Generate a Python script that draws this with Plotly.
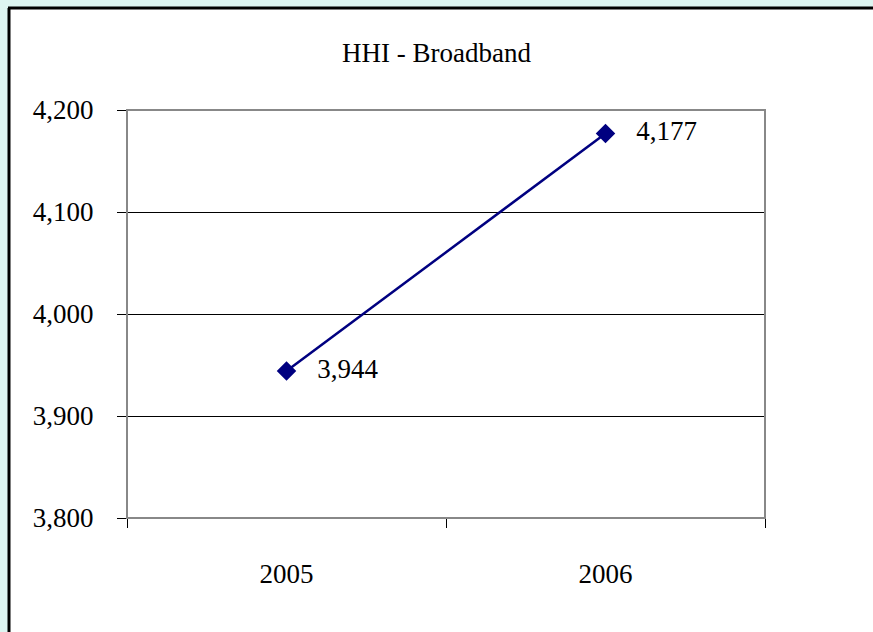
import plotly.graph_objects as go

years = ["2005", "2006"]
hhi = [3944, 4177]
data_labels = ["3,944", "4,177"]
y_ticks = [3800, 3900, 4000, 4100, 4200]
y_tick_labels = ["3,800", "3,900", "4,000", "4,100", "4,200"]

W, H = 873, 632
L, R, T, B = 127, 108, 110, 114
pw, ph = W - L - R, H - T - B


def px_x(x):
    return (x - L) / pw


def px_y(y):
    return 1 - (y - T) / ph


navy = "#000080"
cyan = "#DDF5F1"
serif = "Liberation Serif, Times New Roman, serif"
fs = 27

fig = go.Figure()
fig.add_trace(go.Scatter(
    x=years, y=hhi,
    mode="lines+markers+text",
    line=dict(color=navy, width=2.5),
    marker=dict(symbol="diamond", size=15, color=navy),
    text=["   " + t for t in data_labels],
    textposition="middle right",
    textfont=dict(family=serif, size=fs, color="black"),
    cliponaxis=False,
    showlegend=False,
))

fig.update_layout(
    width=W, height=H,
    margin=dict(l=L, r=R, t=T, b=B),
    paper_bgcolor="white",
    plot_bgcolor="white",
    title=dict(text="HHI - Broadband", x=0.5, xanchor="center",
               y=1 - 53 / H, yanchor="middle",
               font=dict(family=serif, size=fs, color="black")),
    font=dict(family=serif, size=fs, color="black"),
    shapes=[
        # light backdrop strips along the left and top edges
        dict(type="rect", xref="paper", yref="paper", layer="below",
             x0=px_x(0), y0=px_y(H), x1=px_x(8), y1=px_y(0),
             fillcolor=cyan, line=dict(width=0)),
        dict(type="rect", xref="paper", yref="paper", layer="below",
             x0=px_x(0), y0=px_y(7), x1=px_x(W), y1=px_y(0),
             fillcolor=cyan, line=dict(width=0)),
        # black frame: left and top edges
        dict(type="line", xref="paper", yref="paper", layer="below",
             x0=px_x(9), y0=px_y(H), x1=px_x(9), y1=px_y(8),
             line=dict(color="black", width=3)),
        dict(type="line", xref="paper", yref="paper", layer="below",
             x0=px_x(8), y0=px_y(8), x1=px_x(W), y1=px_y(8),
             line=dict(color="black", width=3)),
        # plot area border
        dict(type="rect", xref="paper", yref="paper", layer="above",
             x0=0, y0=0, x1=1, y1=1,
             fillcolor="rgba(0,0,0,0)", line=dict(color="#888888", width=2)),
    ],
)

fig.update_xaxes(
    type="category",
    range=[-0.5, 1.5],
    showline=True, linecolor="black", linewidth=1,
    ticks="outside", ticklen=9, tickcolor="black", tickwidth=1,
    tickson="boundaries",
    showgrid=False,
    tickfont=dict(family=serif, size=fs, color="black"),
    ticklabelstandoff=32,
)
fig.update_yaxes(
    range=[3800, 4200],
    tickvals=y_ticks, ticktext=y_tick_labels,
    showline=True, linecolor="black", linewidth=1,
    ticks="outside", ticklen=9, tickcolor="black", tickwidth=1,
    showgrid=True, gridcolor="black", gridwidth=1,
    zeroline=False,
    tickfont=dict(family=serif, size=fs, color="black"),
    ticklabelstandoff=18,
)

fig.write_html("out.html")
